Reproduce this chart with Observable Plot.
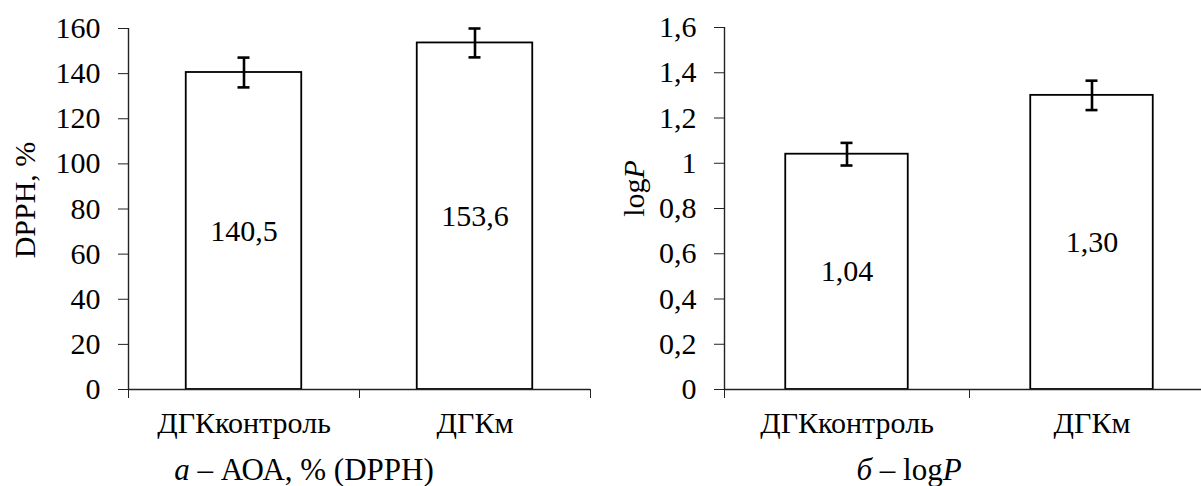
<!DOCTYPE html>
<html><head><meta charset="utf-8">
<script src="https://cdn.jsdelivr.net/npm/d3@7"></script>
<script src="https://cdn.jsdelivr.net/npm/@observablehq/plot@0.6"></script>
<style>
body{margin:0;background:#fff;}
#wrap{position:relative;width:1201px;height:486px;overflow:hidden;background:#fff;font-family:"Liberation Serif","Times New Roman",serif;color:#000;}
.panel{position:absolute;top:0;}
.panel svg{max-width:none !important;display:block;}
.cap{position:absolute;top:458px;font-size:31px;white-space:nowrap;transform:translateX(-50%);line-height:24px;}
</style></head><body>
<div id="wrap">
 <div id="p1" class="panel" style="left:0;width:600px"></div>
 <div id="p2" class="panel" style="left:600px;width:614px"></div>
 <div class="cap" style="left:304px"><i>а</i> – АОА, % (DPPH)</div>
 <div class="cap" style="left:909px"><i>б</i> – log<i>P</i></div>
</div>
<script>
const categories = ["ДГКконтроль", "ДГКм"];
const dpphValues = [140.5, 153.6];
const dpphErrors = [6.6, 6.4];
const logPValues = [1.04, 1.30];
const logPErrors = [0.05, 0.065];
const dpphTicks = [0, 20, 40, 60, 80, 100, 120, 140, 160];
const logPTicks = [0, 0.2, 0.4, 0.6, 0.8, 1, 1.2, 1.4, 1.6];
const dpphLabel = "DPPH, %";
const logPLabel = "logP";

const FONT = "Liberation Serif, Times New Roman, serif";
const comma = (s) => String(s).replace(".", ",");

function panel({values, errors, ticks, decimals, yLabel, width, ml, mr, mt, labelDx, labelDy}) {
  const height = 486, mb = 97;
  const data = categories.map((c, i) => ({c, i, v: values[i], e: errors[i]}));
  const bandPx = (width - ml - mr) / categories.length;
  const capHalf = 6 / bandPx;
  const boundaries = d3.range(categories.length + 1);
  const centers = categories.map((_, i) => i + 0.5);
  const svg = Plot.plot({
    width, height,
    marginLeft: ml, marginRight: mr, marginTop: mt, marginBottom: mb,
    style: {background: "white", color: "#000", overflow: "visible"},
    x: {domain: [0, categories.length], label: null},
    y: {domain: [ticks[0], ticks[ticks.length - 1]], label: null},
    marks: [
      Plot.rectY(data, {x1: d => d.i + 0.25, x2: d => d.i + 0.75, y1: 0, y2: "v", fill: "white", stroke: "#000", strokeWidth: 1.8}),
      Plot.ruleX(data, {x: d => d.i + 0.5, y1: d => d.v - d.e, y2: d => d.v + d.e, stroke: "#000", strokeWidth: 2.6}),
      Plot.ruleY(data, {y: d => d.v + d.e, x1: d => d.i + 0.5 - capHalf, x2: d => d.i + 0.5 + capHalf, stroke: "#000", strokeWidth: 2.6}),
      Plot.ruleY(data, {y: d => d.v - d.e, x1: d => d.i + 0.5 - capHalf, x2: d => d.i + 0.5 + capHalf, stroke: "#000", strokeWidth: 2.6}),
      Plot.text(data, {x: d => d.i + 0.5, y: d => d.v / 2, text: d => comma(d.v.toFixed(decimals)), fontSize: 30}),
      Plot.ruleY([0], {stroke: "#222", strokeWidth: 1.4}),
      Plot.ruleX([0], {stroke: "#222", strokeWidth: 1.4}),
      Plot.axisY(ticks, {tickSize: 10, tickPadding: 18, tickFormat: comma, label: null, stroke: "#222", fontSize: 30}),
      Plot.axisX(boundaries, {tickSize: 9, tickFormat: () => "", label: null, stroke: "#222"}),
      Plot.axisX(centers, {tickSize: 0, tickPadding: 22, tickFormat: d => categories[Math.round(d - 0.5)], label: null, fontSize: 30}),
      Plot.text([yLabel], {frameAnchor: "left", textAnchor: "middle", rotate: -90, dx: labelDx, dy: labelDy, fontSize: 30})
    ]
  });
  const s = d3.select(svg);
  s.style("font-family", FONT).style("font-size", "30px");
  s.selectAll("g, text").attr("font-family", FONT);
  s.selectAll("text").attr("font-size", 30).attr("fill", "#000");
  return svg;
}

const p1 = panel({values: dpphValues, errors: dpphErrors, ticks: dpphTicks, decimals: 1, yLabel: dpphLabel,
  width: 600, ml: 128, mr: 10, mt: 28, labelDx: -103, labelDy: -9});
const p2 = panel({values: logPValues, errors: logPErrors, ticks: logPTicks, decimals: 2, yLabel: logPLabel,
  width: 614, ml: 124, mr: 0, mt: 27, labelDx: -90, labelDy: -20});
document.getElementById("p1").appendChild(p1);
document.getElementById("p2").appendChild(p2);

// italic P in "logP"
d3.select(p2).selectAll("text").filter(function() { return this.textContent === logPLabel; })
  .each(function() {
    const t = d3.select(this);
    t.text(null);
    t.append("tspan").text("log");
    t.append("tspan").attr("font-style", "italic").text("P");
  });
</script>
</body></html>
